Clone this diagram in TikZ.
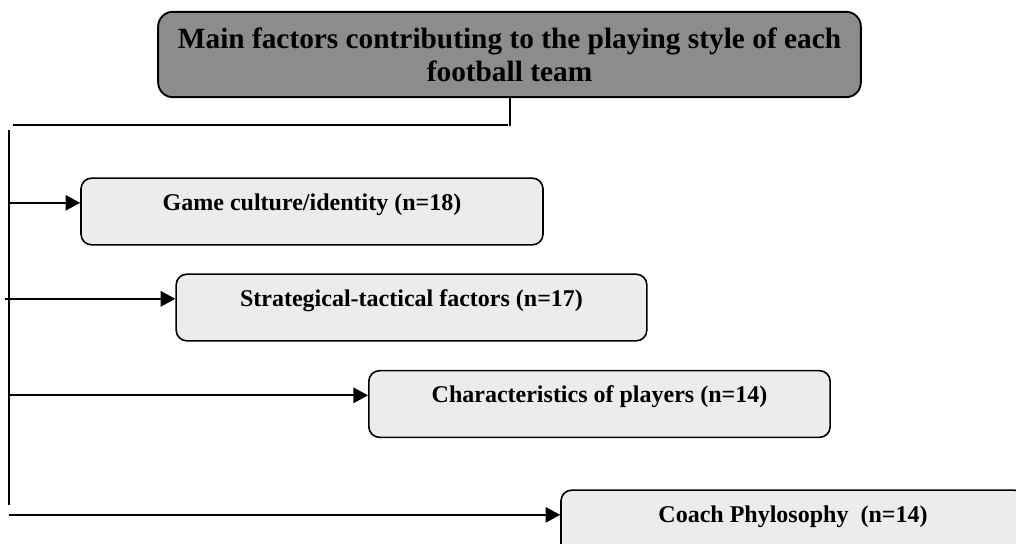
\documentclass[tikz,border=0pt]{standalone}
\usepackage{fontspec}
\setmainfont{Liberation Serif}
\usetikzlibrary{positioning,arrows.meta}
\definecolor{titlegray}{RGB}{140,140,140}
\definecolor{factorgray}{RGB}{236,236,236}
\tikzset{%
  title box/.style={
    draw,
    line width=1.4pt,
    rounded corners=11pt,
    fill=titlegray,
    minimum width=527pt,
    minimum height=64pt,
    align=center,
    font=\bfseries\fontsize{22}{24.75}\selectfont
  },
  factor box/.style={
    draw,
    line width=1.2pt,
    rounded corners=8pt,
    fill=factorgray,
    minimum height=50pt,
    text height=12pt,
    text depth=14.25pt,
    font=\bfseries\fontsize{18}{22}\selectfont
  },
}

\begin{document}
\begin{tikzpicture}[x=0.75pt,y=-0.75pt,>={Triangle[length=11pt,width=11.5pt]}]
      \tikzstyle{link}=[line width=1.4pt]
      \useasboundingbox (0,0) rectangle (1016,543);

      \node[title box] (title) at (509.5,54.5) {Main factors contributing to the playing style of each\\football team};

      \node[factor box,minimum width=346.5pt] (culture) at (312,211.5) {Game culture/identity (n=18)};
      \node[factor box,minimum width=353pt] (tactics) at (411.5,307.5) {Strategical-tactical factors (n=17)};
      \node[factor box,minimum width=346pt] (players) at (599.5,404) {Characteristics of players (n=14)};
      \node[factor box,minimum width=348pt] (coach) at (793,523.5) {Coach Phylosophy~ (n=14)};

      \coordinate (drop) at (510,126);
      \coordinate (bar left) at (13,125);
      \coordinate (bar right) at (508,125);
      \coordinate (trunk top) at (9,130);
      \coordinate (trunk bottom) at (9,505);
      \coordinate (stub) at (5,298);

      \draw[line width=0.8pt] (title.south -| drop) -- (drop);
      \draw[link] (bar left) -- (bar right);
      \draw[link] (trunk top) -- (trunk bottom);

      \draw[link,->] ([yshift=6.5pt]culture.west -| trunk top) -- ([yshift=6.5pt]culture.west);
      \draw[link,->] ([yshift=6.5pt]tactics.west -| stub) -- ([yshift=6.5pt]tactics.west);
      \draw[link,->] ([yshift=6.5pt]players.west -| trunk top) -- ([yshift=6.5pt]players.west);
      \draw[link,->] ([yshift=6.5pt]coach.west -| trunk top) -- ([yshift=6.5pt]coach.west);
  \end{tikzpicture}
\end{document}
